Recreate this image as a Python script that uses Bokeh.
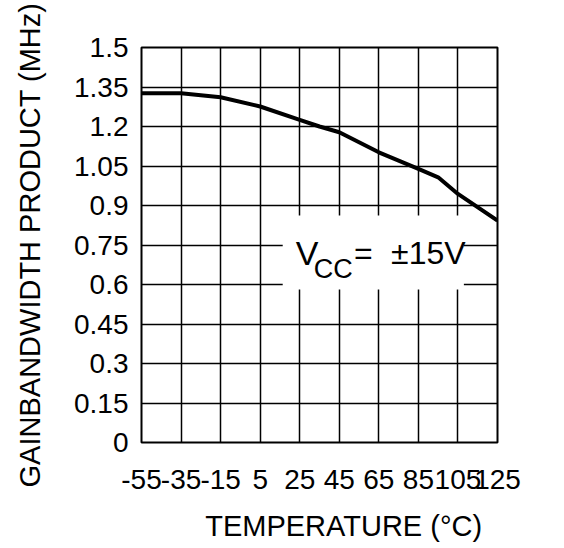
from bokeh.plotting import figure
from bokeh.models import Range1d, FixedTicker, Label, BoxAnnotation
from bokeh.embed import file_html
from bokeh.resources import INLINE

# Data
temperature = [-55, -35, -15, 5, 25, 35, 45, 65, 85, 95, 105, 125]
gbw_mhz = [1.326, 1.326, 1.311, 1.276, 1.225, 1.200, 1.178, 1.102, 1.039, 1.007, 0.944, 0.843]

x_ticks = [-55, -35, -15, 5, 25, 45, 65, 85, 105, 125]
x_tick_labels = ["-55", "-35", "-15", "5", "25", "45", "65", "85", "105", "125"]
y_ticks = [0, 0.15, 0.3, 0.45, 0.6, 0.75, 0.9, 1.05, 1.2, 1.35, 1.5]
y_tick_labels = ["0", "0.15", "0.3", "0.45", "0.6", "0.75", "0.9", "1.05", "1.2", "1.35", "1.5"]

FONT = "Liberation Sans"

p = figure(width=564, height=548, output_backend="svg", toolbar_location=None,
           x_range=Range1d(-55, 125), y_range=Range1d(0, 1.5),
           min_border_left=141, min_border_right=67, min_border_top=47, min_border_bottom=106)

p.background_fill_color = "white"
p.border_fill_color = "white"
p.outline_line_color = "black"
p.outline_line_width = 2

for ax in (p.xaxis[0], p.yaxis[0]):
    ax.axis_line_color = None
    ax.major_tick_line_color = None
    ax.minor_tick_line_color = None
    ax.major_tick_out = 0
    ax.major_tick_in = 0
    ax.major_label_text_font = FONT
    ax.major_label_text_font_size = "28px"
    ax.major_label_text_color = "black"
    ax.axis_label_text_font = FONT
    ax.axis_label_text_font_size = "29px"
    ax.axis_label_text_font_style = "normal"
    ax.axis_label_text_color = "black"

p.xaxis.ticker = FixedTicker(ticks=x_ticks)
p.yaxis.ticker = FixedTicker(ticks=y_ticks)
p.xaxis.major_label_overrides = {t: s for t, s in zip(x_ticks, x_tick_labels)}
p.yaxis.major_label_overrides = {t: s for t, s in zip(y_ticks, y_tick_labels)}
p.xaxis.axis_label = "\u00a0" * 6 + "TEMPERATURE (°C)"
p.yaxis.axis_label = "GAINBANDWIDTH PRODUCT (MHz)"
p.xaxis.major_label_standoff = 27
p.xaxis.axis_label_standoff = 18
p.yaxis.major_label_standoff = 13
p.yaxis.axis_label_standoff = 25

p.xgrid.ticker = FixedTicker(ticks=x_ticks)
p.ygrid.ticker = FixedTicker(ticks=y_ticks)
for g in (p.xgrid[0], p.ygrid[0]):
    g.grid_line_color = "black"
    g.grid_line_width = 1.5
    g.grid_line_alpha = 1.0

# white box behind annotation (covers the grid)
p.add_layout(BoxAnnotation(left=16.4, right=108, bottom=0.581, top=0.862,
                           fill_color="white", fill_alpha=1.0, line_color=None,
                           level="underlay"))

p.line(temperature, gbw_mhz, line_color="black", line_width=4, line_join="round")

p.add_layout(Label(x=23, y=0.7215, text="V", text_font=FONT, text_font_size="34px",
                   text_color="black", text_baseline="alphabetic"))
p.add_layout(Label(x=32.1, y=0.657, text="CC", text_font=FONT, text_font_size="27px",
                   text_color="black", text_baseline="alphabetic"))
p.add_layout(Label(x=52.4, y=0.7215, text="=", text_font=FONT, text_font_size="32px",
                   text_color="black", text_baseline="alphabetic"))
p.add_layout(Label(x=71.2, y=0.7215, text="±15V", text_font=FONT, text_font_size="32px",
                   text_color="black", text_baseline="alphabetic"))

open("out.html", "w").write(file_html(p, INLINE))
